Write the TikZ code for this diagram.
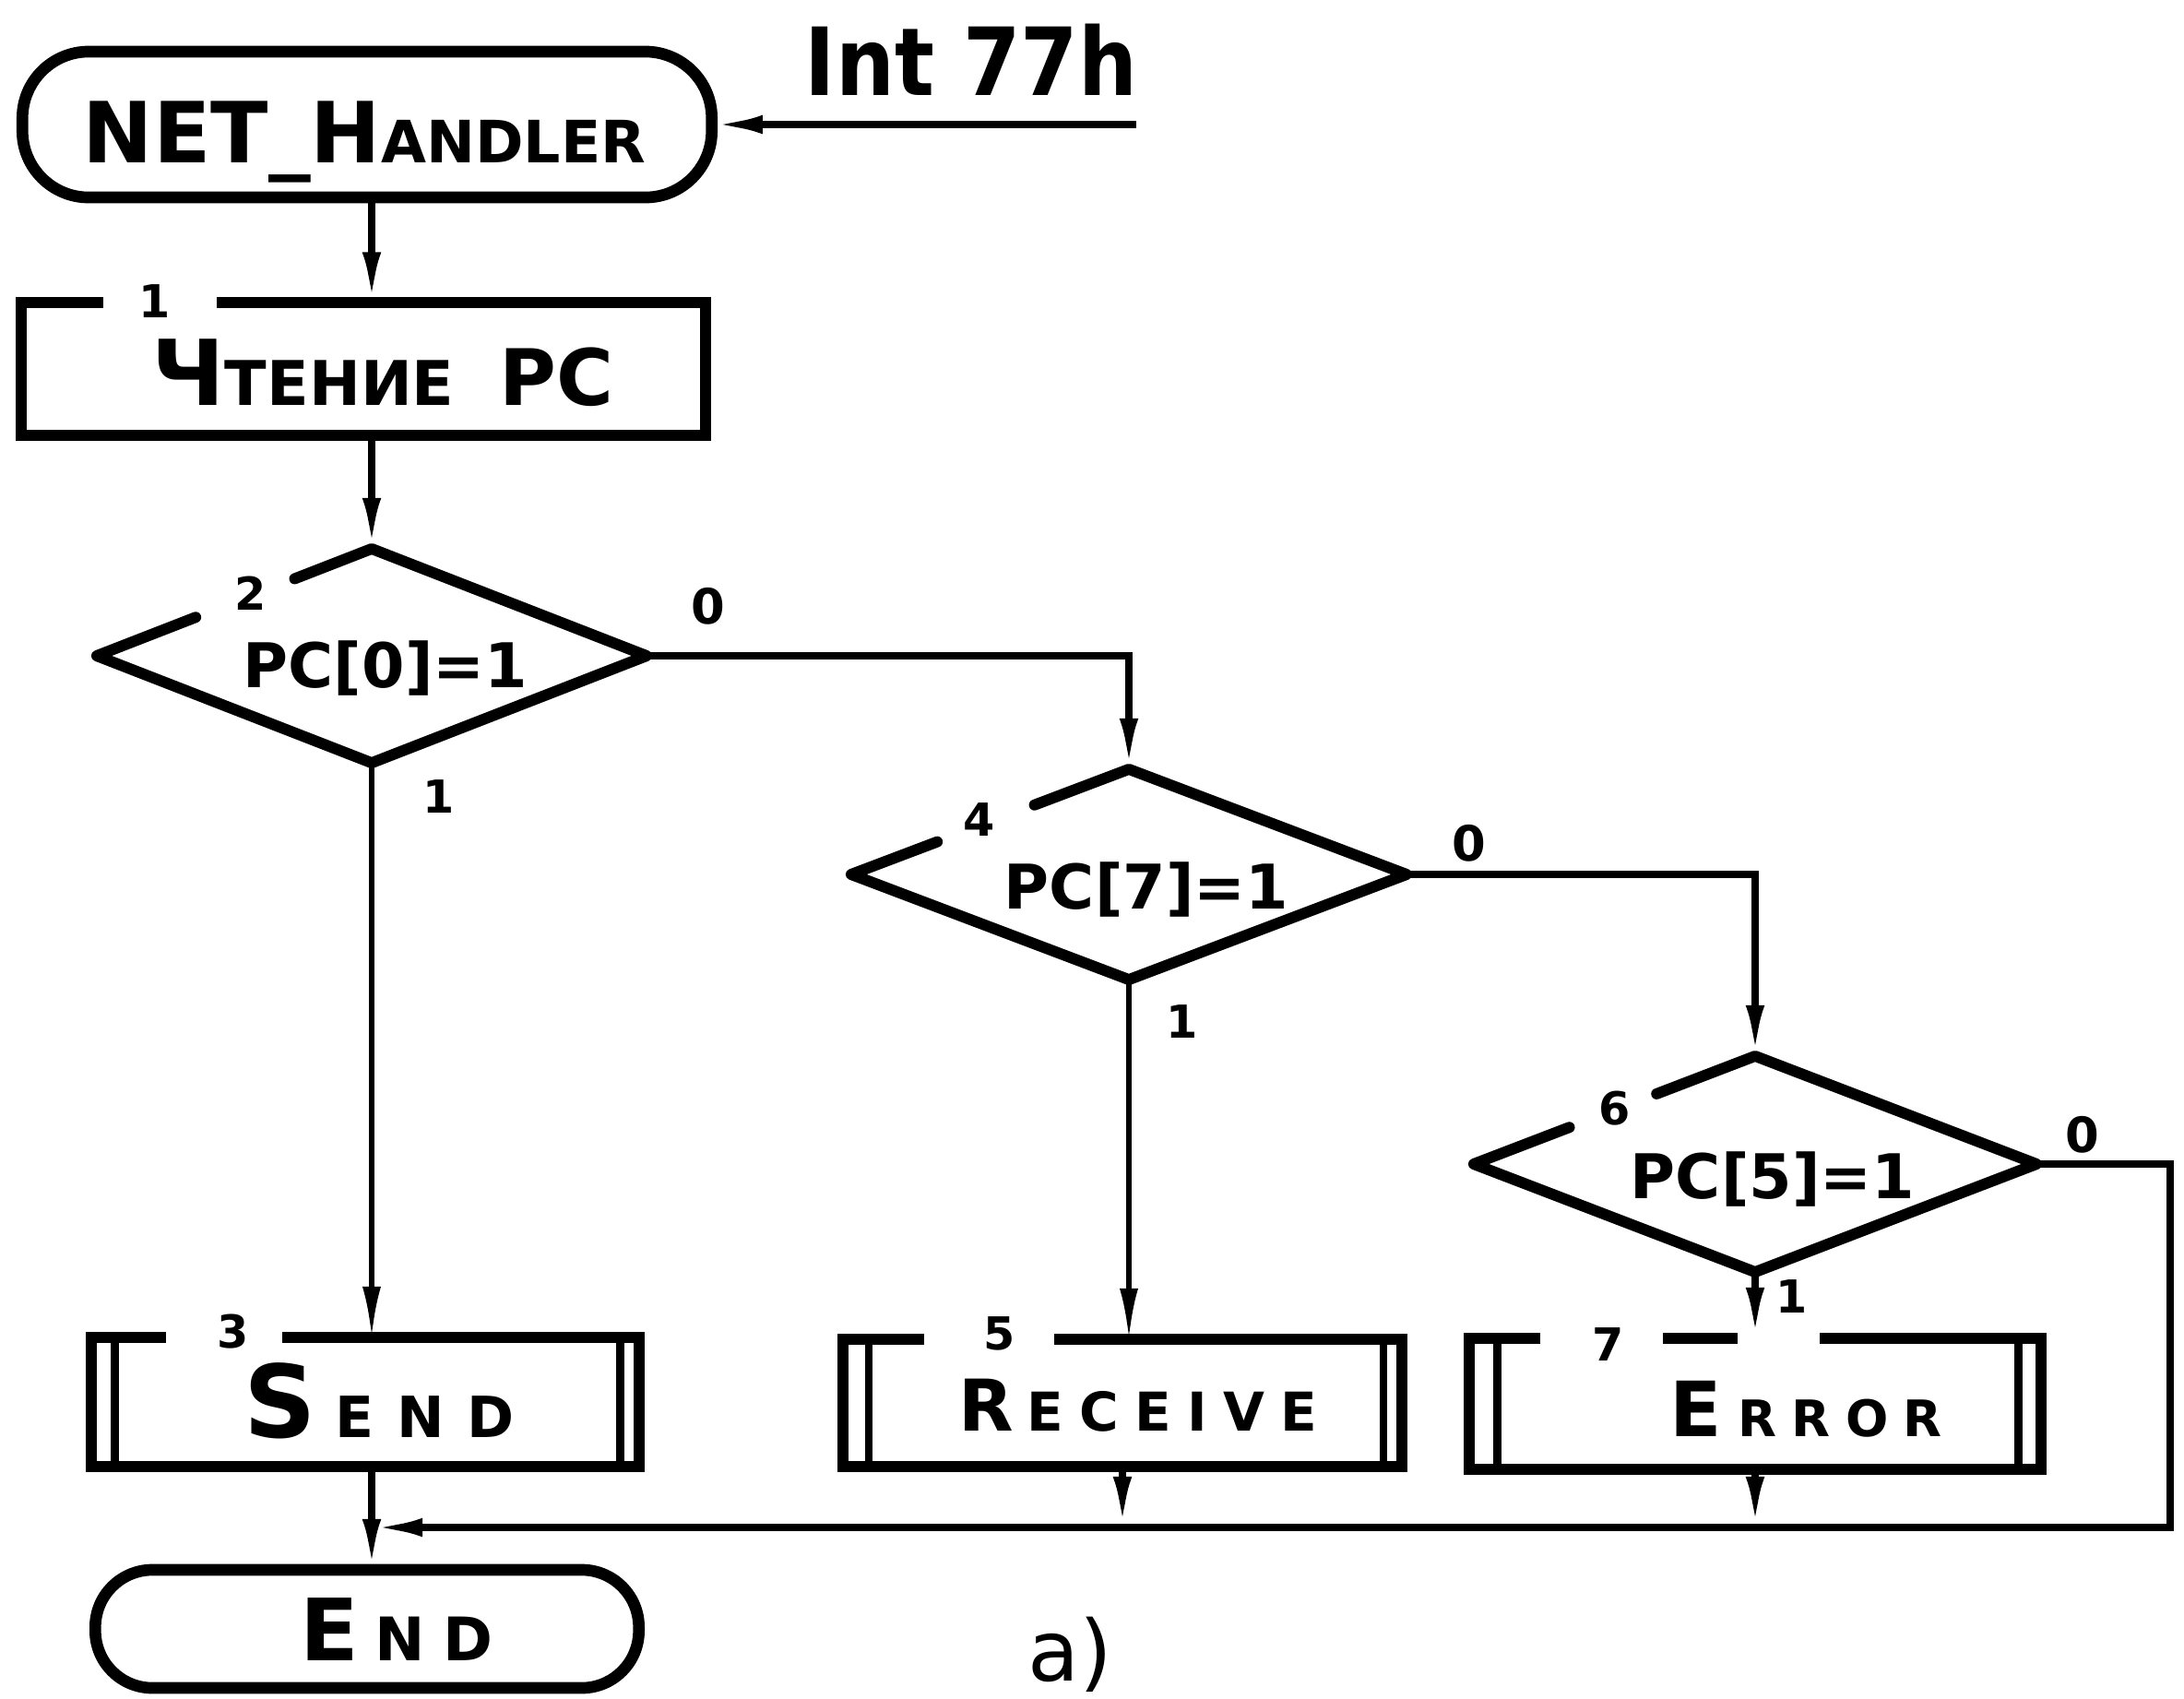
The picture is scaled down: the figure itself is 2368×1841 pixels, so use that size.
\documentclass[tikz,border=0pt]{standalone}
\usepackage{fontspec}
\setmainfont{DejaVu Sans}
\usepackage{graphicx}
\usetikzlibrary{arrows.meta,calc}
\newcommand\fsz[2]{{\fontsize{#1}{#1}\selectfont #2}}
\newcommand\lsp[2]{{\addfontfeature{LetterSpace=#1}#2}}
\begin{document}
\begin{tikzpicture}[x=0.01cm,y=-0.01cm,
  every node/.style={inner sep=0pt, outer sep=0pt},
  shp/.style={line width=3.4pt, line join=miter},
  dia/.style={line width=3.4pt, line join=round, line cap=round},
  inl/.style={line width=2.4pt},
  conn/.style={line width=2.2pt},
  vthin/.style={line width=1.5pt},
  arr/.style={-{Latex[length=0.55cm,width=0.2cm]}},
  num/.style={font=\bfseries\fontsize{14}{14}\selectfont},
  zero/.style={font=\bfseries\fontsize{15}{15}\selectfont},
  txt/.style={font=\bfseries, anchor=base},
  pcs/.style={font=\bfseries\fontsize{19}{19}\selectfont, anchor=base},
  term/.style={draw, line width=3.6pt},
]
\fill[white] (0,0) rectangle (2368,1841);
\useasboundingbox (0,0) rectangle (2368,1841);

% ---------- start terminal ----------
\node[term, rounded corners=0.72cm, minimum width=7.47cm, minimum height=1.58cm] (net) at (398,135) {};
\node[txt] (tnet) at (395,176) {\fsz{26}{NET\_H}\fsz{18}{ANDLER}};
\coordinate (intR) at (1232,135);
\node[font=\bfseries, anchor=base] (tint) at (1053,103) {\scalebox{0.88}[1]{\fsz{29}{Int 77h}}};

% ---------- box 1 ----------
\node[minimum width=7.42cm, minimum height=1.43cm] (b1) at (394,400) {};
\draw[shp] ($(b1.north west)+(89,0)$) -- (b1.north west) -- (b1.south west) -- (b1.south east) -- (b1.north east) -- ($(b1.north west)+(212,0)$);
\node[num] (n1) at ($(b1.north west)+(145,-2)$) {1};
\node[txt] (t1) at (415,439) {\fsz{28}{Ч}\fsz{19}{ТЕНИЕ}\hspace{14pt}\fsz{24}{PC}};

% ---------- decision 2 ----------
\node[minimum width=5.96cm, minimum height=2.32cm] (d2) at (403,711) {};
\draw[dia] ($(d2.west)!0.36!(d2.north)$) -- (d2.west) -- (d2.south) -- (d2.east) -- (d2.north) -- ($(d2.west)!0.72!(d2.north)$);
\node[num] (n2) at ($(d2.west)!0.56!(d2.north)+(0,-3)$) {2};
\node[pcs] (t2) at (418,745) {PC[0]=1};
\node[zero] (z2) at (768,657) {0};
\node[num] (o2) at (476,864) {1};

% ---------- decision 4 ----------
\node[minimum width=6.02cm, minimum height=2.28cm] (d4) at (1224,948) {};
\draw[dia] ($(d4.west)!0.31!(d4.north)$) -- (d4.west) -- (d4.south) -- (d4.east) -- (d4.north) -- ($(d4.west)!0.66!(d4.north)$);
\node[num] (n4) at ($(d4.west)!0.46!(d4.north)+(0,-7)$) {4};
\node[pcs] (t4) at (1243,985) {PC[7]=1};
\node[zero] (z4) at (1593,914) {0};
\node[num] (o4) at (1282,1108) {1};

% ---------- decision 6 ----------
\node[minimum width=6.10cm, minimum height=2.34cm] (d6) at (1903,1262) {};
\draw[dia] ($(d6.west)!0.34!(d6.north)$) -- (d6.west) -- (d6.south) -- (d6.east) -- (d6.north) -- ($(d6.west)!0.65!(d6.north)$);
\node[num] (n6) at ($(d6.west)!0.5!(d6.north)+(0,-2)$) {6};
\node[pcs] (t6) at (1922,1299) {PC[5]=1};
\node[zero] (z6) at (2258,1230) {0};
\node[num] (o6) at (1943,1406) {1};

% ---------- process boxes ----------
\node[minimum width=5.93cm, minimum height=1.40cm] (send) at (396,1520) {};
\draw[shp] ($(send.north west)+(81,0)$) -- (send.north west) -- (send.south west) -- (send.south east) -- (send.north east) -- ($(send.north west)+(207,0)$);
\draw[inl] ($(send.north west)+(25,0)$) -- ($(send.south west)+(25,0)$);
\draw[inl] ($(send.north east)+(-20,0)$) -- ($(send.south east)+(-20,0)$);
\node[num] (n3) at ($(send.north west)+(153,-6)$) {3};
\node[txt] (tsend) at (411,1558) {\fsz{31}{S}\hspace{6pt}\fsz{17.5}{\lsp{40}{END}}};

\node[minimum width=6.06cm, minimum height=1.38cm] (recv) at (1217,1521) {};
\draw[shp] ($(recv.north west)+(88,0)$) -- (recv.north west) -- (recv.south west) -- (recv.south east) -- (recv.north east) -- ($(recv.north west)+(229,0)$);
\draw[inl] ($(recv.north west)+(28,0)$) -- ($(recv.south west)+(28,0)$);
\draw[inl] ($(recv.north east)+(-20,0)$) -- ($(recv.south east)+(-20,0)$);
\node[num] (n5) at ($(recv.north west)+(170,-6)$) {5};
\node[txt] (trecv) at (1234,1551) {\fsz{22}{R}\hspace{4pt}\fsz{16.5}{\lsp{30}{ECEIVE}}};

\node[minimum width=6.19cm, minimum height=1.42cm] (err) at (1903,1522) {};
\draw[shp] ($(err.north west)+(77,0)$) -- (err.north west) -- (err.south west) -- (err.south east) -- (err.north east) -- ($(err.north west)+(380,0)$);
\draw[shp] ($(err.north west)+(210,0)$) -- ($(err.north west)+(291,0)$);
\draw[inl] ($(err.north west)+(30,0)$) -- ($(err.south west)+(30,0)$);
\draw[inl] ($(err.north east)+(-24,0)$) -- ($(err.south east)+(-24,0)$);
\node[num] (n7) at ($(err.north west)+(150,7)$) {7};
\node[txt] (terr) at (1958,1557) {\fsz{23.5}{E}\hspace{5pt}\fsz{15.5}{\lsp{30}{RROR}}};

% ---------- end terminal ----------
\node[term, rounded corners=0.62cm, minimum width=5.89cm, minimum height=1.28cm] (endt) at (398,1766) {};
\node[txt] (tend) at (430,1800) {\fsz{26.5}{E}\hspace{5pt}\fsz{18.5}{\lsp{30}{ND}}};

\coordinate (loopR) at (2353,1656);

% ---------- connectors ----------
\draw[conn,arr] (intR) -- (net.east);
\draw[conn,arr] (d2.north |- net.south) -- (d2.north |- b1.north);
\draw[conn,arr] (d2.north |- b1.south) -- (d2.north);
\draw[conn,arr] (d2.east) -| (d4.north);
\draw[vthin,arr] (d2.south) -- (d2.south |- send.north);
\draw[conn,arr] (d4.east) -| (d6.north);
\draw[vthin,arr] (d4.south) -- (d4.south |- recv.north);
\draw[conn,arr] (d6.south) -- (d6.south |- err.north);
\draw[conn,arr] (d6.east) -- (loopR |- d6.east) -- (loopR) -- (d2.south |- loopR);
\draw[conn,arr] (recv.south) -- (recv.south |- loopR);
\draw[conn,arr] (err.south) -- (err.south |- loopR);
\draw[conn,arr] (d2.south |- send.south) -- (d2.south |- endt.north);

\node[font=\fontsize{26}{26}\selectfont, anchor=base] (fig) at (1160,1822) {а)};
\end{tikzpicture}
\end{document}
